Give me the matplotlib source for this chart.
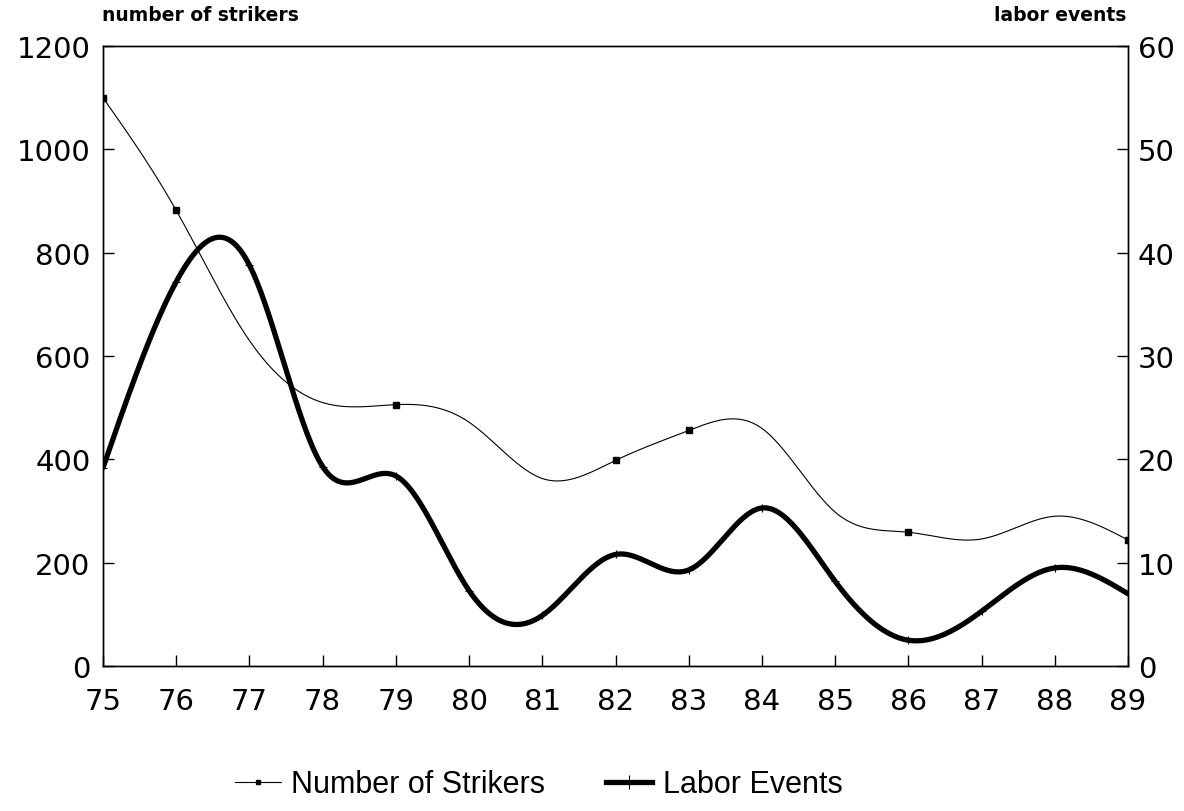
import numpy as np
import matplotlib
matplotlib.use("Agg")
import matplotlib.pyplot as plt
from matplotlib.lines import Line2D

years = [75, 76, 77, 78, 79, 80, 81, 82, 83, 84, 85, 86, 87, 88, 89]
strikers = [1100, 882, 630, 510, 506, 472, 363, 398, 456, 460, 298, 259, 246, 290, 244]
labor_events = [19.2, 37.2, 38.8, 19.3, 18.4, 7.3, 4.9, 10.8, 9.3, 15.3, 8.2, 2.5, 5.3, 9.5, 7.0]
strikers_marked = [0, 1, 4, 7, 8, 11, 14]
left_ticks = [0, 200, 400, 600, 800, 1000, 1200]
right_ticks = [0, 10, 20, 30, 40, 50, 60]


def natural_spline(x, y, xs):
    x = np.asarray(x, float)
    y = np.asarray(y, float)
    n = len(x)
    h = np.diff(x)
    A = np.zeros((n, n))
    b = np.zeros(n)
    A[0, 0] = 1
    A[-1, -1] = 1
    for i in range(1, n - 1):
        A[i, i - 1] = h[i - 1]
        A[i, i] = 2 * (h[i - 1] + h[i])
        A[i, i + 1] = h[i]
        b[i] = 6 * ((y[i + 1] - y[i]) / h[i] - (y[i] - y[i - 1]) / h[i - 1])
    M = np.linalg.solve(A, b)
    idx = np.clip(np.searchsorted(x, xs) - 1, 0, n - 2)
    x0, x1 = x[idx], x[idx + 1]
    hh = x1 - x0
    t0 = x1 - xs
    t1 = xs - x0
    return (M[idx] * t0 ** 3 / (6 * hh) + M[idx + 1] * t1 ** 3 / (6 * hh)
            + (y[idx] / hh - M[idx] * hh / 6) * t0
            + (y[idx + 1] / hh - M[idx + 1] * hh / 6) * t1)


xs = np.linspace(years[0], years[-1], 800)
s_smooth = natural_spline(years, strikers, xs)
l_smooth = natural_spline(years, labor_events, xs)

fig = plt.figure(figsize=(11.84, 8.12), dpi=100)
ax = fig.add_axes([0.0870, 0.1785, 0.8657, 0.7635])
ax2 = ax.twinx()

ax.plot(xs, s_smooth, color="black", lw=0.8)
ax.plot([years[i] for i in strikers_marked], [strikers[i] for i in strikers_marked],
        ls="none", marker="s", ms=4, color="black")
ax2.plot(xs, l_smooth, color="black", lw=3.8, solid_capstyle="round")
ax2.plot(years, labor_events, ls="none", marker="+", ms=6, mew=0.8, color="black")

ax.set_xlim(75, 89)
ax.set_ylim(0, 1200)
ax2.set_ylim(0, 60)
ax.set_xticks(years)
ax.set_xticklabels([str(y) for y in years])
ax.set_yticks(left_ticks)
ax2.set_yticks(right_ticks)

for lab in ax.get_xticklabels() + ax.get_yticklabels() + ax2.get_yticklabels():
    lab.set_fontfamily("DejaVu Sans")
    lab.set_fontsize(21)
ax.tick_params(axis="y", direction="in", length=8, width=1, pad=9)
ax.tick_params(axis="x", direction="in", length=8, width=1, pad=15)
ax2.tick_params(axis="y", direction="in", length=8, width=1, pad=7)
for a in (ax, ax2):
    for sp in a.spines.values():
        sp.set_linewidth(1.0)

fig.text(0.0862, 0.9805, "number of strikers", ha="left", va="center",
         fontsize=13.5, fontweight="bold", family="DejaVu Sans")
fig.text(0.951, 0.9805, "labor events", ha="right", va="center",
         fontsize=13.5, fontweight="bold", family="DejaVu Sans")

handles = [
    Line2D([], [], color="black", lw=0.8, marker="s", ms=3, markevery=[1]),
    Line2D([], [], color="black", lw=3.8, marker="|", ms=10, mew=0.8, markevery=[1]),
]
leg = fig.legend(handles, ["Number of Strikers", "Labor Events"], loc="center",
                 bbox_to_anchor=(0.455, 0.033), ncol=2, frameon=False,
                 prop=dict(family="Liberation Sans", size=22), handlelength=1.5,
                 columnspacing=2.0, handletextpad=0.35)

fig.savefig("out.png", dpi=100)
